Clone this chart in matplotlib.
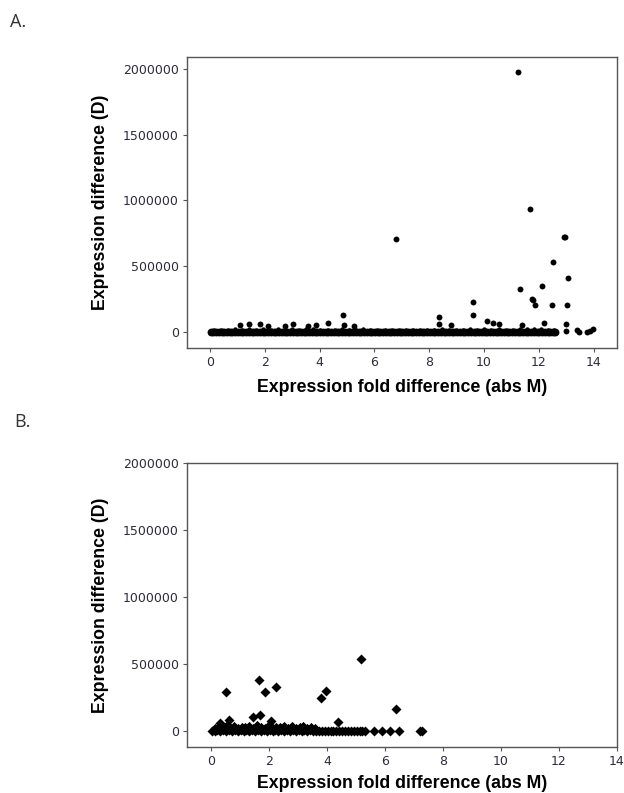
import matplotlib
matplotlib.use('Agg')
import matplotlib.pyplot as plt

# ---- Panel A: fold difference vs expression difference (circles)
# dense bottom of the band (genes with D close to 0)
a_base_x = [0.02, 0.12, 0.22, 0.32, 0.42, 0.52, 0.62, 0.72, 0.82, 0.92, 1.02, 1.12, 1.22,
            1.32, 1.42, 1.52, 1.62, 1.72, 1.82, 1.92, 2.02, 2.12, 2.22, 2.32, 2.42, 2.52,
            2.62, 2.72, 2.82, 2.92, 3.02, 3.12, 3.22, 3.32, 3.42, 3.52, 3.62, 3.72, 3.82,
            3.92, 4.02, 4.12, 4.22, 4.32, 4.42, 4.52, 4.62, 4.72, 4.82, 4.92, 5.02, 5.12,
            5.22, 5.32, 5.42, 5.52, 5.62, 5.72, 5.82, 5.92, 6.02, 6.12, 6.22, 6.32, 6.42,
            6.52, 6.62, 6.72, 6.82, 6.92, 7.02, 7.12, 7.22, 7.32, 7.42, 7.52, 7.62, 7.72,
            7.82, 7.92, 8.02, 8.12, 8.22, 8.32, 8.42, 8.52, 8.62, 8.72, 8.82, 8.92, 9.02,
            9.12, 9.22, 9.32, 9.42, 9.52, 9.62, 9.72, 9.82, 9.92, 10.02, 10.12, 10.22,
            10.32, 10.42, 10.52, 10.62, 10.72, 10.82, 10.92, 11.02, 11.12, 11.22, 11.32,
            11.42, 11.52, 11.62, 11.72, 11.82, 11.92, 12.02, 12.12, 12.22, 12.32, 12.42,
            12.52, 12.60]
a_base_y = [0, 2000, 0, 3000, 1000, 0, 2000, 0, 3000, 1000, 0, 2000, 0,
            3000, 1000, 0, 2000, 0, 3000, 1000, 0, 2000, 0, 3000, 1000, 0,
            2000, 0, 3000, 1000, 0, 2000, 0, 3000, 1000, 0, 2000, 0, 3000,
            1000, 0, 2000, 0, 3000, 1000, 0, 2000, 0, 3000, 1000, 0, 2000,
            0, 3000, 1000, 0, 2000, 0, 3000, 1000, 0, 2000, 0, 3000, 1000,
            0, 2000, 0, 3000, 1000, 0, 2000, 0, 3000, 1000, 0, 2000, 0,
            3000, 1000, 0, 2000, 0, 3000, 1000, 0, 2000, 0, 3000, 1000, 0,
            2000, 0, 3000, 1000, 0, 2000, 0, 3000, 1000, 0, 2000, 0,
            3000, 1000, 0, 2000, 0, 3000, 1000, 0, 2000, 0, 3000,
            1000, 0, 2000, 0, 3000, 1000, 0, 2000, 0, 3000, 1000,
            0, 2000]
# upper fringe of the band
a_band_x = [0.14, 0.40, 0.66, 0.91, 1.17, 1.43, 1.69, 1.95, 2.21, 2.47, 2.73, 2.99, 3.25,
            3.51, 3.77, 4.03, 4.29, 4.55, 4.81, 5.07, 5.33, 5.59, 5.85, 6.11, 6.37, 6.63,
            6.89, 7.15, 7.41, 7.67, 7.93, 8.19, 8.45, 8.71, 8.97, 9.23, 9.49, 9.75, 10.01,
            10.27, 10.53, 10.79, 11.05, 11.31, 11.57, 11.83, 12.09, 12.35, 12.55]
a_band_y = [15000, 18000, 14000, 22000, 16000, 25000, 15000, 20000, 17000, 24000, 14000, 21000, 16000,
            19000, 23000, 15000, 18000, 14000, 22000, 16000, 15000, 19000, 14000, 17000, 15000, 16000,
            14000, 15000, 16000, 14000, 18000, 15000, 20000, 14000, 17000, 15000, 19000, 16000, 22000,
            18000, 20000, 15000, 17000, 24000, 19000, 22000, 25000, 18000, 16000]
a_out_x = [1.08, 1.41, 1.82, 2.13, 2.74, 3.03, 3.58, 3.86, 4.29, 4.84, 4.88, 5.26,
           6.78, 8.34, 8.34, 8.81, 9.60, 9.60, 10.10, 10.32, 10.55, 11.25, 11.30, 11.40,
           11.68, 11.76, 11.80, 11.85, 12.13, 12.18, 12.47, 12.50, 12.90, 12.95, 12.99,
           13.00, 13.04, 13.08, 13.38, 13.48, 13.74, 13.86, 13.98]
a_out_y = [53000, 61000, 61000, 45000, 45000, 57000, 45000, 53000, 71000, 129000, 53000, 45000,
           710000, 114000, 64000, 53000, 231000, 128000, 86000, 71000, 61000, 1975000, 330000, 53000,
           935000, 252000, 244000, 203000, 348000, 66000, 208000, 530000, 722000, 722000, 60000,
           8000, 205000, 408000, 15000, 2000, 2000, 10000, 20000]

# ---- Panel B: same axes (diamonds)
b_band_x = [0.02, 0.12, 0.22, 0.32, 0.42, 0.52, 0.62, 0.72, 0.82, 0.92, 1.02, 1.12, 1.22,
            1.32, 1.42, 1.52, 1.62, 1.72, 1.82, 1.92, 2.02, 2.12, 2.22, 2.32, 2.42, 2.52,
            2.62, 2.72, 2.82, 2.92, 3.02, 3.12, 3.22, 3.32, 3.42, 3.52, 3.62, 3.72, 3.82,
            3.92, 4.02, 4.12, 4.22, 4.32, 4.42, 4.52, 4.62, 4.72, 4.82, 4.92, 5.02, 5.12,
            5.22, 5.32, 5.61, 5.90, 6.18, 6.47, 7.20, 7.28]
b_band_y = [0, 3000, 8000, 2000, 6000, 1000, 9000, 3000, 7000, 2000, 5000, 0, 8000,
            3000, 6000, 1000, 9000, 2000, 5000, 0, 7000, 3000, 8000, 1000, 6000, 2000,
            9000, 0, 5000, 3000, 7000, 1000, 8000, 2000, 6000, 0, 4000, 1000, 3000,
            0, 2000, 1000, 3000, 0, 2000, 1000, 0, 2000, 0, 1000, 0, 2000,
            0, 1000, 0, 0, 0, 0, 0, 0]
b_top_x = [0.12, 0.25, 0.38, 0.50, 0.65, 0.78, 0.92, 1.05, 1.18, 1.32, 1.45, 1.58, 1.72,
           1.85, 1.98, 2.12, 2.25, 2.38, 2.52, 2.65, 2.78, 2.92, 3.05, 3.18, 3.32, 3.45, 3.60]
b_top_y = [25000, 30000, 20000, 35000, 28000, 40000, 22000, 33000, 27000, 38000, 24000, 42000, 30000,
           26000, 36000, 22000, 32000, 28000, 34000, 20000, 38000, 24000, 30000, 36000, 22000, 28000, 26000]
b_out_x = [0.31, 0.53, 0.61, 1.46, 1.67, 1.69, 1.87, 2.06, 2.24, 3.80, 3.98, 4.37, 5.16, 6.38]
b_out_y = [57000, 291000, 82000, 107000, 381000, 119000, 291000, 75000, 328000, 244000, 298000,
           65000, 537000, 164000]

xticks = [0, 2, 4, 6, 8, 10, 12, 14]
yticks = [0, 500000, 1000000, 1500000, 2000000]

fig = plt.figure(figsize=(6.24, 7.93), dpi=100)
W, H = 624, 793


def style(ax, xlim, ylim, pad):
    ax.set_xlim(*xlim)
    ax.set_ylim(*ylim)
    ax.set_xticks(xticks)
    ax.set_yticks(yticks)
    ax.set_yticklabels([str(t) for t in yticks])
    ax.tick_params(direction='out', length=3, width=0.8, colors='#555555',
                   labelcolor='#2b2b3a', labelsize=9, pad=3)
    for s in ax.spines.values():
        s.set_color('#555555')
        s.set_linewidth(1.0)
    ax.set_xlabel('Expression fold difference (abs M)', fontsize=12.8, fontweight='bold',
                  family='Liberation Sans', labelpad=pad)
    ax.set_ylabel('Expression difference (D)', fontsize=12.8, fontweight='bold',
                  family='Liberation Sans', labelpad=10)


axA = fig.add_axes([187 / W, (H - 348) / H, 430 / W, 291 / H])
axA.scatter(a_base_x, a_base_y, s=32, c='black', marker='o', linewidths=0)
axA.scatter(a_band_x, a_band_y, s=10, c='black', marker='o', linewidths=0)
axA.scatter(a_out_x, a_out_y, s=18, c='black', marker='o', linewidths=0)
style(axA, (-0.84, 14.85), (-122000, 2090000), 7)

axB = fig.add_axes([187 / W, (H - 747) / H, 430 / W, 284 / H])
axB.scatter(b_band_x, b_band_y, s=26, c='black', marker='D', linewidths=0)
axB.scatter(b_top_x, b_top_y, s=22, c='black', marker='D', linewidths=0)
axB.scatter(b_out_x, b_out_y, s=26, c='black', marker='D', linewidths=0)
style(axB, (-0.83, 14.0), (-119000, 2000000), 5)

fig.text(10 / W, 1 - 22 / H, 'A.', fontsize=13, color='#333333', va='center', family='Open Sans')
fig.text(14 / W, 1 - 422 / H, 'B.', fontsize=13, color='#333333', va='center', family='Open Sans')

fig.savefig('out.png', dpi=100)
